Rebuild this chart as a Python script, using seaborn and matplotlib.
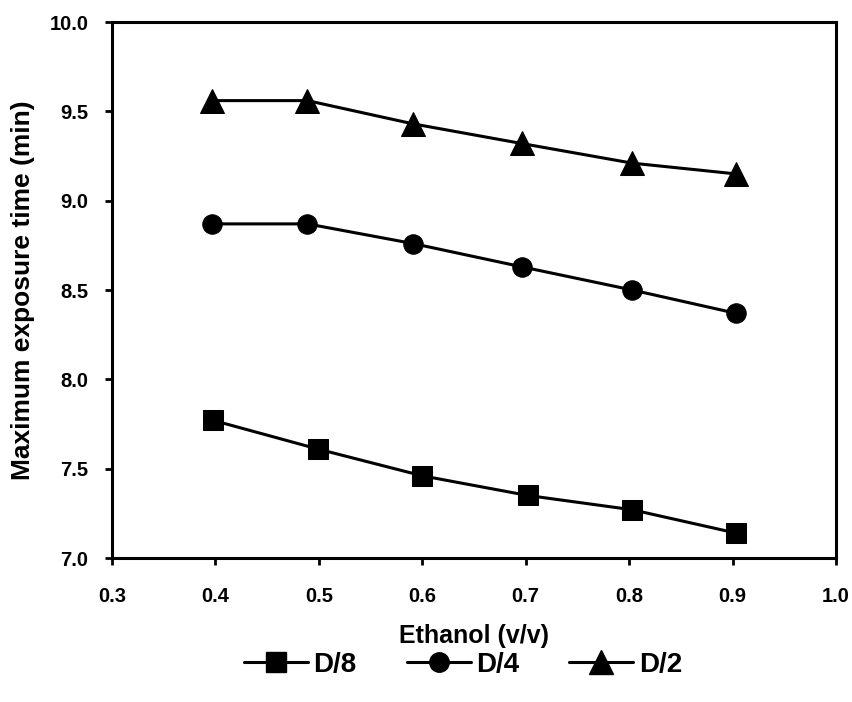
import numpy as np
import pandas as pd
import seaborn as sns
import matplotlib.pyplot as plt

# --- data ---
series = ['D/8', 'D/4', 'D/2']
x_d8 = [0.398, 0.499, 0.600, 0.702, 0.803, 0.903]
y_d8 = [7.77, 7.61, 7.46, 7.35, 7.27, 7.14]
x_d4 = [0.397, 0.489, 0.591, 0.696, 0.803, 0.903]
y_d4 = [8.87, 8.87, 8.76, 8.63, 8.50, 8.37]
x_d2 = [0.397, 0.489, 0.591, 0.696, 0.803, 0.903]
y_d2 = [9.56, 9.56, 9.43, 9.32, 9.21, 9.15]

x_ticks = [0.3, 0.4, 0.5, 0.6, 0.7, 0.8, 0.9, 1.0]
y_ticks = [7.0, 7.5, 8.0, 8.5, 9.0, 9.5, 10.0]

df = pd.concat([
    pd.DataFrame({'x': x_d8, 'y': y_d8, 'series': 'D/8'}),
    pd.DataFrame({'x': x_d4, 'y': y_d4, 'series': 'D/4'}),
    pd.DataFrame({'x': x_d2, 'y': y_d2, 'series': 'D/2'}),
], ignore_index=True)

sns.set_style('ticks')
plt.rcParams['font.family'] = ['Liberation Sans', 'DejaVu Sans']
for key in ['text.color', 'axes.labelcolor', 'xtick.color', 'ytick.color', 'axes.edgecolor']:
    plt.rcParams[key] = 'black'

fig = plt.figure(figsize=(8.53, 7.02), dpi=100)
ax = fig.add_axes([112 / 853, 1 - 558 / 702, (836 - 112) / 853, (558 - 22) / 702])

markers = {'D/8': 's', 'D/4': 'o', 'D/2': '^'}
msize = {'D/8': 14, 'D/4': 14, 'D/2': 17}
for name in series:
    sub = df[df['series'] == name]
    sns.lineplot(data=sub, x='x', y='y', color='black', marker=markers[name],
                 markersize=msize[name], linewidth=2.2, markeredgecolor='black',
                 ax=ax)

ax.set_xlim(0.3, 1.0)
ax.set_ylim(7.0, 10.0)
ax.set_xticks(x_ticks)
ax.set_yticks(y_ticks)
ax.set_xticklabels([f'{t:.1f}' for t in x_ticks], fontweight='bold', fontsize=14.5)
ax.set_yticklabels([f'{t:.1f}' for t in y_ticks], fontweight='bold', fontsize=14.5)
ax.tick_params(direction='out', length=5, width=2, top=False, right=False)
ax.tick_params(axis='x', pad=16)
ax.tick_params(axis='y', pad=12)
for s in ax.spines.values():
    s.set_linewidth(2.2)

ax.set_xlabel('Ethanol (v/v)', fontweight='bold', fontsize=18, labelpad=13)
ax.set_ylabel('Maximum exposure time (min)', fontweight='bold', fontsize=19, labelpad=10)

# legend below the axes
handles = []
for name in series:
    h, = ax.plot([], [], color='black', marker=markers[name], markersize=msize[name], linewidth=2.2)
    handles.append(h)
ax.legend(handles, series, loc='center', bbox_to_anchor=(0.485, -0.2),
          ncol=3, frameon=False, handlelength=2.3, columnspacing=1.8,
          handletextpad=0.2, prop={'weight': 'bold', 'size': 20})

fig.savefig('out.png', dpi=100)
